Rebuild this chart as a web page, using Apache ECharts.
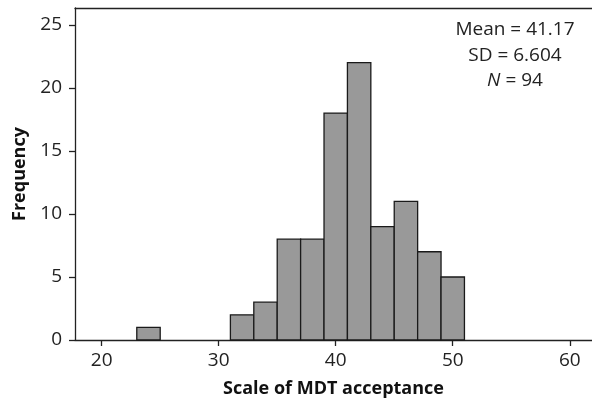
<!DOCTYPE html>
<html>
<head>
<meta charset="utf-8">
<script src="https://cdn.jsdelivr.net/npm/echarts@6/dist/echarts.min.js"></script>
<style>html,body{margin:0;padding:0;background:#fff}#c{width:592px;height:403px}</style>
</head>
<body>
<div id="c"></div>
<script>
const binStarts = [23, 31, 33, 35, 37, 39, 41, 43, 45, 47, 49];
const binWidth = 2;
const counts = [1, 2, 3, 8, 8, 18, 22, 9, 11, 7, 5];
const xTicks = [20, 30, 40, 50, 60];
const yTicks = [0, 5, 10, 15, 20, 25];
const statsLines = ['Mean = 41.17', 'SD = 6.604', 'N = 94'];

const FONT = '"Open Sans", "Noto Sans", sans-serif';
const chart = echarts.init(document.getElementById('c'), null, {renderer: 'canvas'});
const data = binStarts.map((s, i) => [s, s + binWidth, counts[i]]);

chart.setOption({
  animation: false,
  backgroundColor: '#fff',
  grid: {left: 75, right: 0, top: 8, bottom: 61.3},
  xAxis: [{
    type: 'value', min: 17.72, max: 61.9, interval: 10,
    position: 'bottom',
    axisLine: {show: true, onZero: false, lineStyle: {color: '#222', width: 1.3}},
    axisTick: {show: true, length: 6, lineStyle: {color: '#222', width: 1.3}, customValues: xTicks},
    axisLabel: {fontFamily: FONT, fontSize: 19, color: '#222', margin: 11, customValues: xTicks},
    splitLine: {show: false},
    name: 'Scale of MDT acceptance', nameLocation: 'middle', nameGap: 40,
    nameTextStyle: {fontFamily: FONT, fontSize: 18, fontWeight: 'bold', color: '#111'}
  }, {
    type: 'value', min: 17.72, max: 61.9, position: 'top',
    axisLine: {show: true, onZero: false, lineStyle: {color: '#222', width: 1.3}},
    axisTick: {show: false}, axisLabel: {show: false}, splitLine: {show: false}
  }],
  yAxis: {
    type: 'value', min: 0, max: 26.34, interval: 5,
    axisLine: {show: true, lineStyle: {color: '#222', width: 1.3}},
    axisTick: {show: true, length: 6, lineStyle: {color: '#222', width: 1.3}, customValues: yTicks},
    axisLabel: {fontFamily: FONT, fontSize: 19, color: '#222', margin: 13, customValues: yTicks},
    splitLine: {show: false},
    name: 'Frequency', nameLocation: 'middle', nameGap: 46,
    nameTextStyle: {fontFamily: FONT, fontSize: 18, fontWeight: 'bold', color: '#111'}
  },
  series: [{
    type: 'custom',
    xAxisIndex: 0,
    data: data,
    renderItem: function (params, api) {
      const p0 = api.coord([api.value(0), 0]);
      const p1 = api.coord([api.value(1), api.value(2)]);
      return {
        type: 'rect',
        shape: {x: p0[0], y: p1[1], width: p1[0] - p0[0], height: p0[1] - p1[1]},
        style: {fill: '#999999', stroke: '#1a1a1a', lineWidth: 1.3}
      };
    },
    encode: {x: [0, 1], y: 2}
  }],
  graphic: [0, 1, 2].map(function (i) {
    const t = statsLines[i];
    const isN = t.indexOf('N') === 0;
    return {
      type: 'text', x: 515, y: 30 + i * 25.5,
      style: {
        text: isN ? '{i|N}' + t.slice(1) : t,
        rich: {i: {fontStyle: 'italic', fontFamily: FONT, fontSize: 19, fill: '#222'}},
        fontFamily: FONT, fontSize: 19, fill: '#222',
        align: 'center', verticalAlign: 'middle'
      }
    };
  })
});
</script>
</body>
</html>
